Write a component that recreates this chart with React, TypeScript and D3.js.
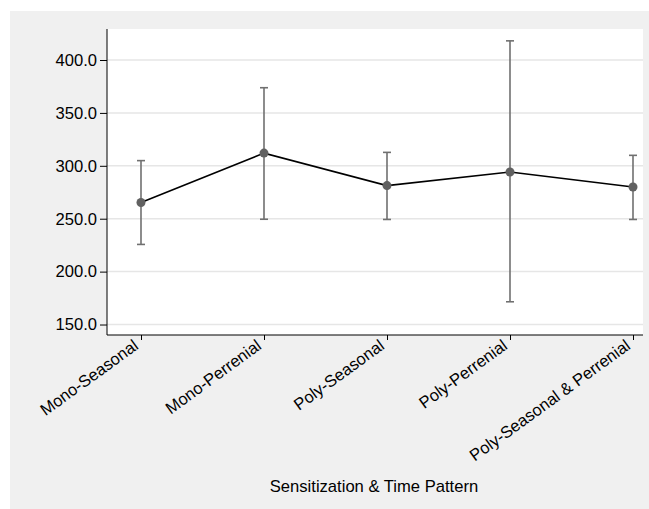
import React, { useEffect, useRef } from 'react';
import * as d3 from 'd3';

const categories = ['Mono-Seasonal', 'Mono-Perrenial', 'Poly-Seasonal', 'Poly-Perrenial', 'Poly-Seasonal & Perrenial'];
const means = [265.3, 312.0, 281.3, 294.2, 280.0];
const upper = [304.9, 373.8, 312.7, 418.1, 309.9];
const lower = [225.7, 249.5, 249.3, 171.5, 249.3];
const yTicks = [150, 200, 250, 300, 350, 400];
const xTitle = 'Sensitization & Time Pattern';

export default function App() {
  const svgRef = useRef<SVGSVGElement>(null);

  useEffect(() => {
    if (!svgRef.current) return;
    const root = d3.select(svgRef.current);
    root.selectAll('*').remove();

    const W = 649, H = 509;
    const plot = { left: 107, top: 29, right: 643, bottom: 335 };
    const font = '"Liberation Sans", Arial, sans-serif';
    const fs = '16.6px';

    root.attr('width', W).attr('height', H);

    // grey panel
    root.append('rect')
      .attr('x', 10).attr('y', 11)
      .attr('width', W - 10).attr('height', H - 11)
      .attr('fill', '#f0f0f0');

    // white plot area
    root.append('rect')
      .attr('x', plot.left).attr('y', plot.top)
      .attr('width', plot.right - plot.left).attr('height', plot.bottom - plot.top)
      .attr('fill', '#ffffff');

    const y = d3.scaleLinear().domain([140.1, 429.3]).range([plot.bottom, plot.top]);
    const x = d3.scalePoint<string>().domain(categories).range([141, 633]);

    // gridlines
    root.append('g')
      .selectAll('line')
      .data(yTicks)
      .join('line')
      .attr('x1', plot.left).attr('x2', plot.right)
      .attr('y1', d => y(d)).attr('y2', d => y(d))
      .attr('stroke', '#e6e6e6')
      .attr('stroke-width', 1.5);

    // y axis
    const yAxis = root.append('g')
      .attr('transform', `translate(${plot.left},0)`)
      .call(d3.axisLeft(y).tickValues(yTicks).tickFormat(d3.format('.1f')).tickSize(7).tickPadding(3).tickSizeOuter(0));
    yAxis.select('.domain').remove();
    yAxis.selectAll('line').attr('stroke', '#000');
    yAxis.selectAll('text')
      .attr('fill', '#000')
      .style('font-family', font)
      .style('font-size', fs);
    root.append('line')
      .attr('x1', plot.left).attr('x2', plot.left)
      .attr('y1', plot.top).attr('y2', plot.bottom)
      .attr('stroke', '#000').attr('stroke-width', 1);

    // x axis
    const xAxis = root.append('g')
      .attr('transform', `translate(0,${plot.bottom})`)
      .call(d3.axisBottom(x).tickSize(5).tickSizeOuter(0));
    xAxis.select('.domain').remove();
    xAxis.selectAll('line').attr('stroke', '#000');
    xAxis.selectAll('text')
      .attr('fill', '#000')
      .attr('text-anchor', 'end')
      .attr('dy', null)
      .attr('y', 0)
      .attr('transform', 'translate(-2,13) rotate(-36)')
      .style('font-family', font)
      .style('font-size', fs);
    root.append('line')
      .attr('x1', plot.left).attr('x2', plot.right)
      .attr('y1', plot.bottom).attr('y2', plot.bottom)
      .attr('stroke', '#000').attr('stroke-width', 1);

    // x title
    root.append('text')
      .attr('x', 374).attr('y', 492)
      .attr('text-anchor', 'middle')
      .attr('fill', '#000')
      .style('font-family', font)
      .style('font-size', fs)
      .text(xTitle);

    // error bars
    const eb = root.append('g').attr('stroke', '#707070').attr('stroke-width', 1.6);
    categories.forEach((c, i) => {
      const cx = x(c)!;
      eb.append('line').attr('x1', cx).attr('x2', cx).attr('y1', y(upper[i])).attr('y2', y(lower[i]));
      eb.append('line').attr('x1', cx - 4).attr('x2', cx + 4).attr('y1', y(upper[i])).attr('y2', y(upper[i]));
      eb.append('line').attr('x1', cx - 4).attr('x2', cx + 4).attr('y1', y(lower[i])).attr('y2', y(lower[i]));
    });

    // mean line
    const line = d3.line<number>()
      .x((d, i) => x(categories[i])!)
      .y(d => y(d));
    root.append('path')
      .datum(means)
      .attr('d', line)
      .attr('fill', 'none')
      .attr('stroke', '#000')
      .attr('stroke-width', 1.6);

    // mean points
    root.append('g')
      .selectAll('circle')
      .data(means)
      .join('circle')
      .attr('cx', (d, i) => x(categories[i])!)
      .attr('cy', d => y(d))
      .attr('r', 4.5)
      .attr('fill', '#616161');
  }, []);

  return <svg ref={svgRef} style={{ position: 'absolute', left: 0, top: 0 }}></svg>;
}
